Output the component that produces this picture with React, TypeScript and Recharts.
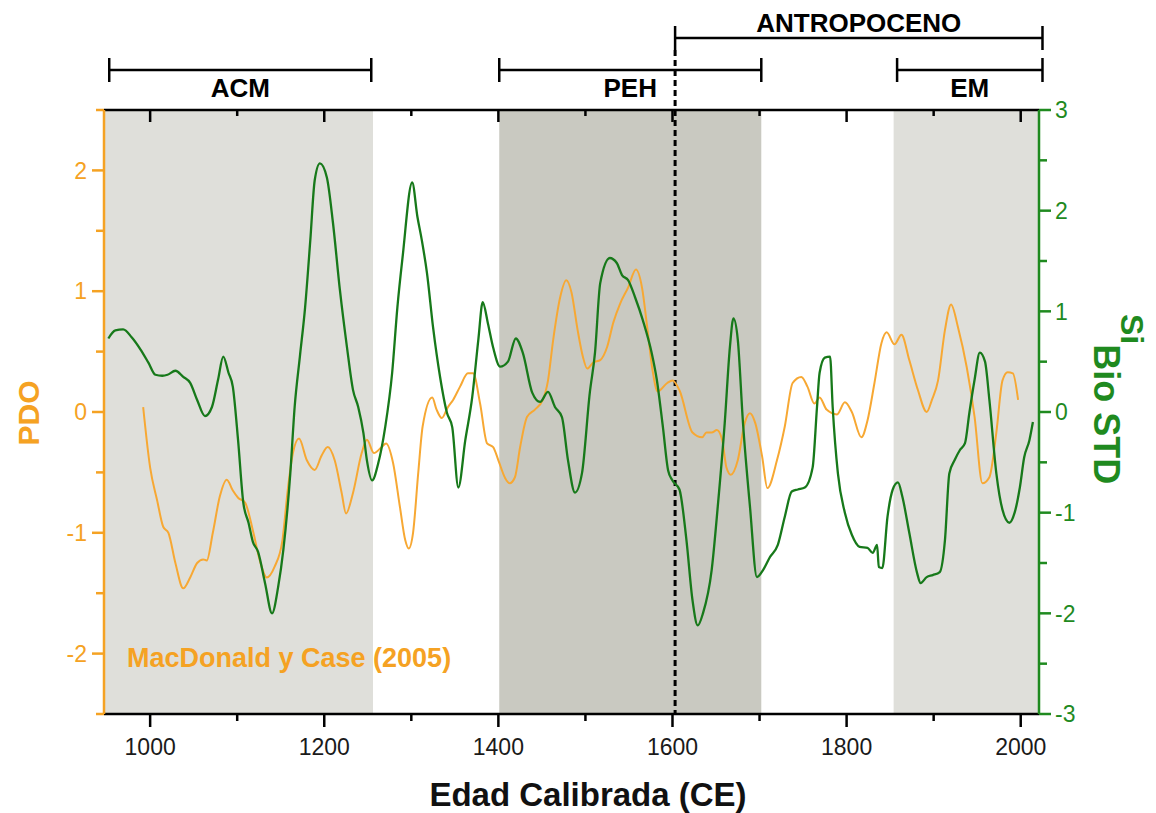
import React from "react";
import { LineChart, Line, XAxis, YAxis, ReferenceArea } from "recharts";

// PDO reconstruction (MacDonald y Case 2005)
const pdoYears = [
  992, 1000, 1008, 1015, 1021, 1029, 1038, 1046, 1054, 1061,
  1065, 1072, 1080, 1088, 1095, 1101, 1109, 1118, 1126, 1134,
  1143, 1152, 1158, 1164, 1171, 1180, 1189, 1197, 1204, 1212,
  1220, 1225, 1233, 1243, 1249, 1257, 1266, 1271, 1279, 1287,
  1293, 1297, 1302, 1308, 1313, 1324, 1329, 1335, 1342, 1348,
  1356, 1365, 1371, 1379, 1387, 1394, 1400, 1408, 1413, 1419,
  1425, 1433, 1442, 1451, 1457, 1463, 1471, 1478, 1484, 1491,
  1497, 1502, 1509, 1517, 1525, 1532, 1540, 1549, 1558, 1565,
  1571, 1577, 1583, 1594, 1600, 1608, 1623, 1634, 1639, 1645,
  1651, 1657, 1662, 1667, 1675, 1683, 1689, 1695, 1703, 1709,
  1720, 1729, 1738, 1748, 1755, 1763, 1769, 1777, 1789, 1798,
  1806, 1817, 1824, 1832, 1840, 1846, 1855, 1863, 1872, 1882,
  1892, 1898, 1905, 1913, 1920, 1928, 1938, 1947, 1956, 1964,
  1972, 1979, 1985, 1991, 1997,
];
const pdoValues = [
  0.04, -0.46, -0.73, -0.95, -1.0, -1.25, -1.46, -1.37, -1.25, -1.22,
  -1.23, -1.0, -0.7, -0.56, -0.65, -0.71, -0.75, -0.98, -1.23, -1.37,
  -1.28, -1.06, -0.65, -0.34, -0.22, -0.4, -0.48, -0.36, -0.29, -0.4,
  -0.67, -0.84, -0.67, -0.34, -0.23, -0.34, -0.29, -0.26, -0.42, -0.79,
  -1.06, -1.13, -1.0, -0.5, -0.12, 0.12, 0.02, -0.05, 0.04, 0.1,
  0.21, 0.32, 0.32, 0.07, -0.26, -0.29, -0.4, -0.55, -0.59, -0.54,
  -0.29, -0.04, 0.02, 0.1, 0.26, 0.6, 0.95, 1.09, 0.99, 0.68,
  0.46, 0.36, 0.41, 0.43, 0.54, 0.74, 0.9, 1.03, 1.18, 1.03,
  0.7, 0.35, 0.17, 0.24, 0.26, 0.18, -0.17, -0.21, -0.17, -0.17,
  -0.15, -0.23, -0.46, -0.52, -0.4, -0.09, -0.01, -0.09, -0.37, -0.63,
  -0.4, -0.12, 0.24, 0.29, 0.21, 0.07, 0.12, 0.02, -0.02, 0.08,
  0.0, -0.21, -0.07, 0.24, 0.57, 0.66, 0.56, 0.64, 0.43, 0.18,
  0.0, 0.1, 0.26, 0.68, 0.89, 0.7, 0.37, -0.04, -0.59, -0.54,
  -0.17, 0.26, 0.33, 0.32, 0.1,
];

// biogenic silica, standardised
const siYears = [
  952, 960, 969, 979, 989, 998, 1006, 1014, 1020, 1029,
  1038, 1046, 1054, 1063, 1071, 1078, 1084, 1090, 1095, 1101,
  1107, 1113, 1118, 1124, 1132, 1140, 1147, 1153, 1161, 1166,
  1172, 1178, 1184, 1189, 1195, 1203, 1210, 1218, 1226, 1233,
  1239, 1245, 1249, 1255, 1262, 1270, 1278, 1284, 1290, 1301,
  1307, 1312, 1318, 1325, 1333, 1341, 1347, 1354, 1362, 1370,
  1377, 1382, 1388, 1394, 1402, 1411, 1420, 1428, 1439, 1448,
  1457, 1465, 1473, 1480, 1488, 1496, 1505, 1511, 1517, 1528,
  1536, 1542, 1549, 1557, 1566, 1576, 1582, 1589, 1595, 1600,
  1608, 1616, 1623, 1629, 1635, 1645, 1652, 1660, 1666, 1670,
  1675, 1681, 1689, 1697, 1704, 1712, 1721, 1729, 1737, 1744,
  1752, 1761, 1766, 1769, 1775, 1781, 1784, 1790, 1798, 1806,
  1815, 1824, 1830, 1835, 1837, 1841, 1847, 1853, 1859, 1864,
  1872, 1881, 1885, 1892, 1899, 1907, 1913, 1918, 1924, 1930,
  1936, 1941, 1947, 1953, 1959, 1964, 1972, 1979, 1987, 1993,
  1999, 2004, 2010, 2014,
];
const siValues = [
  0.73, 0.81, 0.82, 0.74, 0.62, 0.49, 0.37, 0.36, 0.37, 0.41,
  0.35, 0.29, 0.12, -0.04, 0.05, 0.32, 0.55, 0.39, 0.25, -0.28,
  -0.9, -1.1, -1.29, -1.39, -1.7, -2.0, -1.74, -1.37, -0.61, 0.05,
  0.55, 1.04, 1.71, 2.3, 2.47, 2.33, 1.88, 1.21, 0.65, 0.22,
  0.05, -0.21, -0.48, -0.68, -0.51, -0.15, 0.39, 1.04, 1.54, 2.28,
  1.94, 1.71, 1.38, 0.84, 0.35, -0.01, -0.15, -0.75, -0.28, 0.15,
  0.72, 1.09, 0.88, 0.64, 0.45, 0.5, 0.73, 0.59, 0.19, 0.1,
  0.2, 0.05, -0.05, -0.48, -0.8, -0.61, 0.19, 0.59, 1.28, 1.53,
  1.48, 1.36, 1.31, 1.14, 0.91, 0.59, 0.32, -0.15, -0.58, -0.68,
  -0.77, -1.27, -1.87, -2.12, -2.0, -1.57, -0.94, -0.11, 0.65, 0.93,
  0.72, -0.11, -0.94, -1.64, -1.57, -1.44, -1.32, -1.04, -0.79, -0.77,
  -0.75, -0.55, 0.05, 0.39, 0.54, 0.55, 0.05, -0.61, -1.0, -1.22,
  -1.34, -1.35, -1.4, -1.32, -1.54, -1.55, -1.04, -0.77, -0.7, -0.84,
  -1.2, -1.6, -1.7, -1.64, -1.62, -1.59, -1.27, -0.61, -0.48, -0.38,
  -0.31, -0.01, 0.32, 0.59, 0.5, 0.12, -0.61, -0.97, -1.1, -1.0,
  -0.75, -0.45, -0.28, -0.1,
];

const xTicks = [1000, 1100, 1200, 1300, 1400, 1500, 1600, 1700, 1800, 1900, 2000];
const pdoTicks = [-2.5, -2, -1.5, -1, -0.5, 0, 0.5, 1, 1.5, 2, 2.5];
const siTicks = [-3, -2.5, -2, -1.5, -1, -0.5, 0, 0.5, 1, 1.5, 2, 2.5, 3];

// shaded climate periods and the brackets above the frame
const shadeFrom = [947, 1401, 1854];
const shadeTo = [1256, 1702, 2021];
const shadeDark = [false, true, false];
const periodNames = ["ACM", "PEH", "EM", "ANTROPOCENO"];
const periodFrom = [953, 1401, 1858, 1603];
const periodTo = [1254, 1702, 2025, 2025];
const periodRow = [1, 1, 1, 2];

const ORANGE = "#f5a223";
const ORANGE_LINE = "#f7a833";
const GREEN = "#1f8a1f";
const GREEN_LINE = "#17791a";

const pdoData = pdoYears.map((year, i) => ({ year, pdo: pdoValues[i] }));
const siData = siYears.map((year, i) => ({ year, si: siValues[i] }));

const BottomTick = ({ x, y, payload }: any) => {
  const major = payload.value % 200 === 0;
  return (
    <g>
      <line x1={x} x2={x} y1={y} y2={y + (major ? 13 : 7)} stroke="#000" strokeWidth={2.5} />
      {major && (
        <text x={x} y={y + 41} textAnchor="middle" fontSize={23} fill="#1a1a1a">
          {payload.value}
        </text>
      )}
    </g>
  );
};

const TopTick = ({ x, y, payload }: any) => {
  const major = payload.value % 200 === 0;
  return <line x1={x} x2={x} y1={y} y2={y + (major ? 12 : 6)} stroke="#000" strokeWidth={2.5} />;
};

const PdoTick = ({ x, y, payload }: any) => {
  const major = Number.isInteger(payload.value);
  return (
    <g>
      <line x1={x - (major ? 12 : 8)} x2={x} y1={y} y2={y} stroke={ORANGE} strokeWidth={2.5} />
      {major && (
        <text x={x - 17} y={y} dy="0.36em" textAnchor="end" fontSize={23} fill={ORANGE}>
          {payload.value}
        </text>
      )}
    </g>
  );
};

const SiTick = ({ x, y, payload }: any) => {
  const major = Number.isInteger(payload.value);
  return (
    <g>
      <line x1={x} x2={x + (major ? 12 : 8)} y1={y} y2={y} stroke={GREEN} strokeWidth={2.5} />
      {major && (
        <text x={x + 16} y={y} dy="0.36em" textAnchor="start" fontSize={23} fill={GREEN}>
          {payload.value}
        </text>
      )}
    </g>
  );
};

const Bracket = (props: any) => {
  const { viewBox, text, row } = props;
  if (!viewBox) return null;
  const { x, y, width, height } = viewBox;
  const x2 = x + width;
  const ly = row === 1 ? y - 40 : y - 72;
  return (
    <g>
      <line x1={x} x2={x2} y1={ly} y2={ly} stroke="#000" strokeWidth={2.5} />
      <line x1={x} x2={x} y1={ly - 12} y2={ly + 12} stroke="#000" strokeWidth={2.5} />
      <line x1={x2} x2={x2} y1={ly - 12} y2={ly + 12} stroke="#000" strokeWidth={2.5} />
      <text
        x={x + width / 2}
        y={row === 1 ? y - 13 : ly - 6}
        textAnchor="middle"
        fontSize={26}
        fontWeight="bold"
        fill="#000"
      >
        {text}
      </text>
      {row === 2 && (
        <line x1={x} x2={x} y1={ly + 12} y2={y + height} stroke="#000" strokeWidth={3} strokeDasharray="6 4" />
      )}
    </g>
  );
};

const App = () => {
  return (
    <div
      style={{
        position: "absolute",
        left: 0,
        top: 0,
        width: 1156,
        height: 813,
        background: "#fff",
        fontFamily: '"Liberation Sans", Arial, sans-serif',
      }}
    >
      <LineChart width={1156} height={813} margin={{ top: 100, right: 57, bottom: 59, left: 44 }}>
        {shadeFrom.map((from, i) => (
          <ReferenceArea
            key={`shade-${i}`}
            xAxisId="bottom"
            yAxisId="pdo"
            x1={from}
            x2={shadeTo[i]}
            fill={shadeDark[i] ? "#c9c9c1" : "#dfdfda"}
            fillOpacity={1}
            stroke="none"
            ifOverflow="visible"
          />
        ))}
        {periodNames.map((name, i) => (
          <ReferenceArea
            key={`period-${name}`}
            xAxisId="bottom"
            yAxisId="pdo"
            x1={periodFrom[i]}
            x2={periodTo[i]}
            fill="none"
            fillOpacity={0}
            stroke="none"
            ifOverflow="visible"
            label={(p: any) => <Bracket {...p} text={name} row={periodRow[i]} />}
          />
        ))}
        <XAxis
          xAxisId="bottom"
          dataKey="year"
          type="number"
          domain={[947, 2021]}
          ticks={xTicks}
          interval={0}
          height={40}
          tickSize={0}
          tickMargin={0}
          tickLine={false}
          tick={<BottomTick />}
          axisLine={{ stroke: "#000", strokeWidth: 2.5 }}
          allowDataOverflow
        />
        <XAxis
          xAxisId="top"
          orientation="top"
          dataKey="year"
          type="number"
          domain={[947, 2021]}
          ticks={xTicks}
          interval={0}
          height={10}
          tickSize={0}
          tickMargin={0}
          tickLine={false}
          tick={<TopTick />}
          axisLine={{ stroke: "#000", strokeWidth: 2.5 }}
          allowDataOverflow
        />
        <YAxis
          yAxisId="pdo"
          type="number"
          domain={[-2.5, 2.5]}
          ticks={pdoTicks}
          interval={0}
          width={60}
          tickSize={0}
          tickMargin={0}
          tickLine={false}
          tick={<PdoTick />}
          axisLine={{ stroke: ORANGE, strokeWidth: 2.5 }}
          allowDataOverflow
        />
        <YAxis
          yAxisId="si"
          orientation="right"
          type="number"
          domain={[-3, 3]}
          ticks={siTicks}
          interval={0}
          width={60}
          tickSize={0}
          tickMargin={0}
          tickLine={false}
          tick={<SiTick />}
          axisLine={{ stroke: GREEN, strokeWidth: 2.5 }}
          allowDataOverflow
        />
        <Line
          data={pdoData}
          xAxisId="bottom"
          yAxisId="pdo"
          dataKey="pdo"
          type="monotone"
          stroke={ORANGE_LINE}
          strokeWidth={2}
          dot={false}
          isAnimationActive={false}
        />
        <Line
          data={siData}
          xAxisId="bottom"
          yAxisId="si"
          dataKey="si"
          type="monotone"
          stroke={GREEN_LINE}
          strokeWidth={2.3}
          dot={false}
          isAnimationActive={false}
        />
      </LineChart>
      <svg
        width={1156}
        height={813}
        style={{ position: "absolute", left: 0, top: 0, pointerEvents: "none" }}
      >
        <text transform="translate(39, 413) rotate(-90)" textAnchor="middle" fontSize={30} fontWeight="bold" fill={ORANGE}>
          PDO
        </text>
        <text x={588} y={806} textAnchor="middle" fontSize={33} fontWeight="bold" fill="#111">
          Edad Calibrada (CE)
        </text>
        <text transform="translate(1121, 314) rotate(90)" fontWeight="bold" fill={GREEN}>
          <tspan fontSize={32}>Si</tspan>
          <tspan fontSize={36} dy={27}>Bio STD</tspan>
        </text>
        <text x={127} y={667} fontSize={27} fontWeight="bold" fill={ORANGE}>
          MacDonald y Case (2005)
        </text>
      </svg>
    </div>
  );
};

export default App;
